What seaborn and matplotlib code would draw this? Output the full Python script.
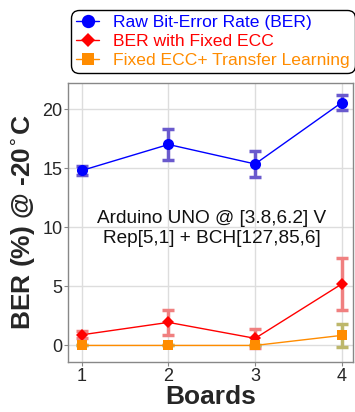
import matplotlib
matplotlib.use("Agg")
import matplotlib.pyplot as plt
import seaborn as sns
import pandas as pd
import numpy as np

boards = [1, 2, 3, 4]
raw_ber = [14.8, 17.0, 15.35, 20.55]
raw_err = [0.4, 1.35, 1.1, 0.6]
ecc_ber = [0.9, 1.95, 0.6, 5.2]
ecc_err = [0.28, 1.05, 0.78, 2.2]
tl_ber = [0.0, 0.0, 0.0, 0.85]
tl_err = [0.0, 0.0, 0.0, 1.0]
series_names = ["Raw Bit-Error Rate (BER)", "BER with Fixed ECC", "Fixed ECC+ Transfer Learning"]
yticks = [0, 5, 10, 15, 20]
xticks = [1, 2, 3, 4]
annotation = "Arduino UNO @ [3.8,6.2] V\nRep[5,1] + BCH[127,85,6]"

sns.set_theme(style="whitegrid")
plt.rcParams['font.family'] = ['Liberation Sans', 'DejaVu Sans']

fig = plt.figure(figsize=(3.55, 4.12), dpi=100)
ax = fig.add_axes([0.1915, 0.1214, 0.8029, 0.6771])

df = pd.DataFrame({
    "Boards": boards * 3,
    "BER": raw_ber + ecc_ber + tl_ber,
    "err": raw_err + ecc_err + tl_err,
    "series": [series_names[0]] * 4 + [series_names[1]] * 4 + [series_names[2]] * 4,
})

line_colors = ["#0000ff", "#ff0000", "#ff8c00"]
err_colors = ["#6a5acd", "#f08080", "#bdb76b"]
markers = ["o", "D", "s"]
msizes = [8, 6, 7]

for name, lc, ec, mk, ms in zip(series_names, line_colors, err_colors, markers, msizes):
    sub = df[df["series"] == name]
    ax.errorbar(sub["Boards"], sub["BER"], yerr=sub["err"], fmt="none",
                ecolor=ec, elinewidth=2.5, capsize=4, capthick=2.5, zorder=2)
    sns.lineplot(data=sub, x="Boards", y="BER", ax=ax, color=lc, marker=mk,
                 markersize=ms, markeredgewidth=0, linewidth=1, label=name,
                 zorder=3)

ax.set_xlim(0.84, 4.13)
ax.set_ylim(-1.4, 22.2)
ax.set_xticks(xticks)
ax.set_yticks(yticks)
ax.tick_params(axis="both", labelsize=13, length=3, color="#888888", pad=1,
               bottom=True, left=True, width=0.8)
ax.grid(True, color="#dddddd", linewidth=1)
for sp in ax.spines.values():
    sp.set_color("#888888")
    sp.set_linewidth(1)

ax.set_xlabel("Boards", fontsize=19, fontweight="bold", labelpad=0)
ax.set_ylabel("BER (%) @ -20$^{\\circ}$C", fontsize=19, fontweight="bold", labelpad=4)

ax.text(2.5, 9.9, annotation, ha="center", va="center", fontsize=13.7,
        linespacing=1.25, color="#111111")

leg = ax.legend(loc="center", bbox_to_anchor=(213 / 355, 1 - 41.5 / 412),
                bbox_transform=fig.transFigure, fontsize=12.6, frameon=True,
                fancybox=True, edgecolor="black", framealpha=1,
                handlelength=1.3, handletextpad=0.8, labelspacing=0.2,
                borderpad=0.3, borderaxespad=0, markerscale=1.2)
for txt, c in zip(leg.get_texts(), line_colors):
    txt.set_color(c)
leg.get_frame().set_linewidth(1)
leg.get_frame().set_boxstyle("round,pad=0,rounding_size=0.45")

fig.savefig("out.png", dpi=100)
